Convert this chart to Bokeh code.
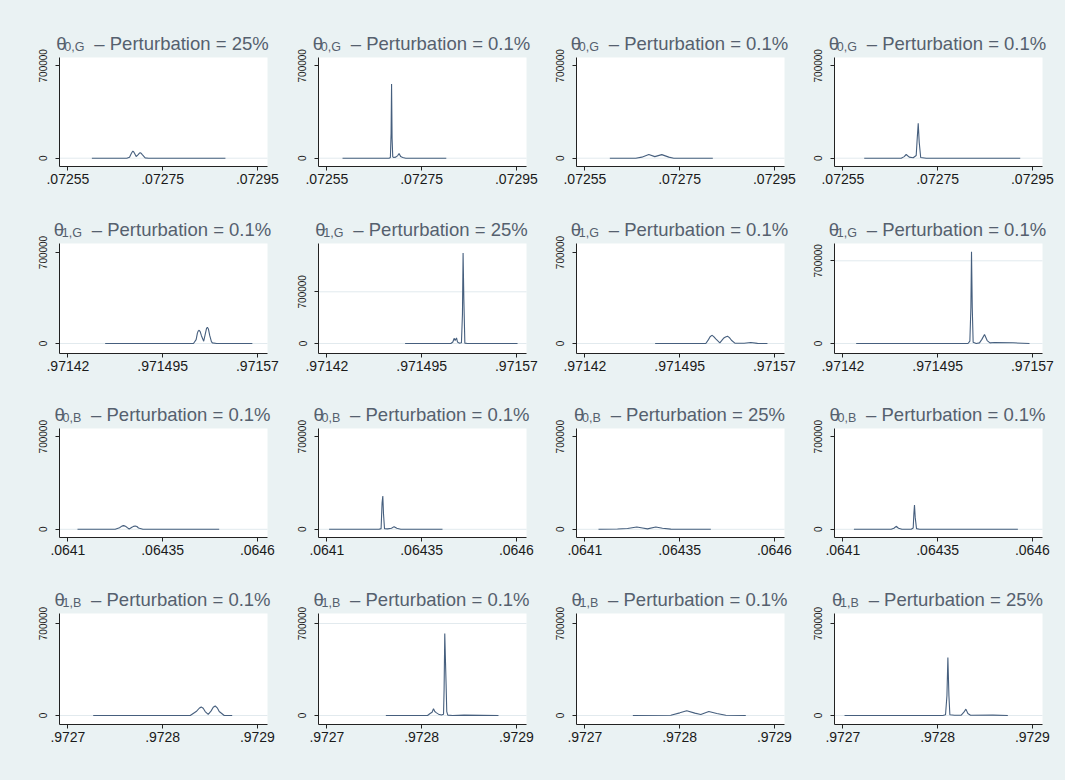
from bokeh.plotting import figure
from bokeh.layouts import gridplot
from bokeh.models import FixedTicker, Range1d, Label, BoxAnnotation
from bokeh.embed import file_html
from bokeh.resources import INLINE

# ---------------- data ----------------
xticks_r1 = [0.07255, 0.07275, 0.07295]
xlabels_r1 = [".07255", ".07275", ".07295"]
xticks_r2 = [0.97142, 0.971495, 0.97157]
xlabels_r2 = [".97142", ".971495", ".97157"]
xticks_r3 = [0.0641, 0.06435, 0.0646]
xlabels_r3 = [".0641", ".06435", ".0646"]
xticks_r4 = [0.9727, 0.9728, 0.9729]
xlabels_r4 = [".9727", ".9728", ".9729"]

yticks = [0, 700000]
ylabels = ["0", "700000"]

row_params = ["0,G", "1,G", "0,B", "1,B"]
perturbations = [["25%", "0.1%", "0.1%", "0.1%"],
                 ["0.1%", "25%", "0.1%", "0.1%"],
                 ["0.1%", "0.1%", "25%", "0.1%"],
                 ["0.1%", "0.1%", "0.1%", "25%"]]

# y axis limits per panel
y_lo = [[-62900, -62900, -62900, -62900],
        [-76900, -135400, -76900, -84600],
        [-62000, -62000, -62000, -62000],
        [-68700, -68700, -68700, -68700]]
y_hi = [[762900, 762900, 762900, 762900],
        [769200, 1354000, 769200, 846400],
        [762000, 762000, 762000, 762000],
        [776300, 776300, 776300, 776300]]
grid_top = [[False, False, False, False],
            [False, True, False, True],
            [False, False, False, False],
            [False, True, False, False]]

x_r1c1 = [0.0726006, 0.0726744, 0.0726801, 0.0726836, 0.0726857, 0.0726871, 0.0726885,
          0.0726906, 0.0726941, 0.0726983, 0.0727011, 0.0727026, 0.0727047, 0.0727075,
          0.0727131, 0.0727201, 0.0728825]
y_r1c1 = [0, 0, 7600, 32900, 47000, 53000, 50000, 37900, 12600, 27800, 39000, 40400, 37000,
          25300, 2500, 0, 0]
x_r1c2 = [0.072583, 0.0726812, 0.072684, 0.0726855, 0.0726865, 0.0726876, 0.072689, 0.0726911,
          0.0726953, 0.0726995, 0.0727023, 0.0727058, 0.07271, 0.0727166, 0.072802]
y_r1c2 = [0, 0, 5000, 190000, 563000, 150000, 10000, 5000, 8000, 20000, 35000, 12000, 5000, 0, 0]
x_r1c3 = [0.0726026, 0.0726575, 0.0726701, 0.0726849, 0.0726976, 0.0727123, 0.0727271,
          0.0727377, 0.07282]
y_r1c3 = [0, 0, 8000, 28000, 12000, 27000, 8000, 0, 0]
x_r1c4 = [0.072595, 0.0726731, 0.0726794, 0.0726836, 0.07269, 0.0726984, 0.0727047, 0.0727069,
          0.072709, 0.0727111, 0.0727142, 0.0727259, 0.0729243]
y_r1c4 = [0, 0, 12000, 28000, 8000, 3000, 20000, 150000, 265000, 120000, 5000, 0, 0]

x_r2c1 = [0.9714495, 0.9715194, 0.9715215, 0.9715225, 0.9715231, 0.9715239, 0.9715247,
          0.9715257, 0.9715275, 0.9715289, 0.9715297, 0.9715304, 0.9715312, 0.9715323,
          0.9715336, 0.9715344, 0.9715378, 0.971566]
y_r2c1 = [0, 0, 30000, 80000, 95000, 101800, 92000, 60000, 17800, 80000, 115000, 124700,
          112000, 60000, 15000, 5000, 0, 0]
x_r2c2 = [0.9714819, 0.9715181, 0.9715197, 0.9715207, 0.9715215, 0.9715226, 0.9715234,
          0.9715247, 0.9715265, 0.9715273, 0.9715278, 0.9715284, 0.9715292, 0.9715313, 0.9715709]
y_r2c2 = [0, 0, 20000, 70000, 40000, 75000, 20000, 5000, 10000, 400000, 1226000, 600000,
          5000, 0, 0]
x_r2c3 = [0.9714756, 0.9715157, 0.9715178, 0.9715191, 0.9715205, 0.9715218, 0.9715236,
          0.9715268, 0.9715297, 0.9715313, 0.9715329, 0.9715344, 0.971536, 0.9715387,
          0.971546, 0.9715513, 0.9715566, 0.9715645]
y_r2c3 = [0, 0, 30000, 52000, 63000, 55000, 35000, 5000, 40000, 50000, 55600, 45000, 25000,
          3000, 2000, 8000, 1000, 0]
x_r2c4 = [0.9714305, 0.971519, 0.9715205, 0.9715213, 0.9715218, 0.9715224, 0.9715231,
          0.9715255, 0.9715281, 0.97153, 0.9715321, 0.9715342, 0.9715364, 0.97154,
          0.9715546, 0.9715677]
y_r2c4 = [0, 0, 20000, 300000, 775600, 300000, 10000, 0, 5000, 35000, 75600, 25000, 5000,
          8000, 6000, 0]

x_r3c1 = [0.0641253, 0.0642248, 0.0642362, 0.0642424, 0.0642467, 0.0642512, 0.0642557,
          0.0642617, 0.0642689, 0.0642732, 0.0642776, 0.064282, 0.0642863, 0.0642979,
          0.0644992]
y_r3c1 = [0, 0, 12000, 24000, 27700, 24000, 15000, 2000, 15000, 22000, 25200, 21000, 10000,
          0, 0]
x_r3c2 = [0.0641058, 0.0642377, 0.064243, 0.0642456, 0.0642475, 0.0642493, 0.064252,
          0.0642599, 0.0642704, 0.0642773, 0.0642844, 0.064295, 0.064405]
y_r3c2 = [0, 0, 5000, 200000, 251800, 120000, 5000, 3000, 8000, 20000, 8000, 0, 0]
x_r3c3 = [0.0641359, 0.064186, 0.0642124, 0.0642369, 0.064252, 0.0642652, 0.0642871,
          0.0643047, 0.0643266, 0.0644322]
y_r3c3 = [0, 2000, 6000, 17600, 10000, 3000, 17600, 8000, 1000, 0]
x_r3c4 = [0.064129, 0.0642274, 0.0642346, 0.0642406, 0.0642467, 0.0642557, 0.0642802,
          0.0642855, 0.0642873, 0.0642889, 0.0642908, 0.0642942, 0.0643021, 0.0645617]
y_r3c4 = [0, 0, 8000, 22700, 8000, 0, 0, 10000, 120000, 183800, 90000, 5000, 0, 0]

x_r4c1 = [0.9727267, 0.9728291, 0.9728354, 0.9728386, 0.9728407, 0.9728428, 0.9728449,
          0.9728481, 0.9728512, 0.9728534, 0.9728555, 0.9728576, 0.9728597, 0.972865,
          0.9728734]
y_r4c1 = [0, 0, 30000, 55000, 65000, 55000, 30000, 8000, 35000, 62000, 72000, 58000, 30000,
          0, 0]
x_r4c2 = [0.9727622, 0.9728062, 0.9728089, 0.972811, 0.9728125, 0.9728139, 0.9728157,
          0.9728178, 0.9728209, 0.9728231, 0.9728237, 0.9728244, 0.9728252, 0.9728258,
          0.9728265, 0.9728276, 0.9728326, 0.9728448, 0.9728811]
y_r4c2 = [0, 0, 15000, 25000, 50900, 30000, 20000, 10000, 3000, 10000, 200000, 623500,
          400000, 240000, 30000, 3000, 0, 3000, 0]
x_r4c3 = [0.9727506, 0.9727907, 0.9728002, 0.9728075, 0.972816, 0.9728223, 0.9728308,
          0.9728392, 0.9728487, 0.9728698]
y_r4c3 = [0, 2000, 20000, 36000, 18000, 8000, 30000, 15000, 2000, 0]
x_r4c4 = [0.9727017, 0.9728055, 0.9728083, 0.9728098, 0.9728108, 0.9728119, 0.9728129,
          0.9728178, 0.9728249, 0.9728277, 0.9728298, 0.9728319, 0.9728347, 0.9728583,
          0.9728741]
y_r4c4 = [0, 0, 5000, 150000, 440300, 150000, 5000, 2000, 3000, 25000, 48400, 15000, 2000,
          3000, 0]

# ---------------- assembly ----------------
xs = [[x_r1c1, x_r1c2, x_r1c3, x_r1c4], [x_r2c1, x_r2c2, x_r2c3, x_r2c4],
      [x_r3c1, x_r3c2, x_r3c3, x_r3c4], [x_r4c1, x_r4c2, x_r4c3, x_r4c4]]
ys = [[y_r1c1, y_r1c2, y_r1c3, y_r1c4], [y_r2c1, y_r2c2, y_r2c3, y_r2c4],
      [y_r3c1, y_r3c2, y_r3c3, y_r3c4], [y_r4c1, y_r4c2, y_r4c3, y_r4c4]]
row_ticks = [xticks_r1, xticks_r2, xticks_r3, xticks_r4]
row_labels = [xlabels_r1, xlabels_r2, xlabels_r3, xlabels_r4]

BG = "#EAF2F3"
LINE = "#465F7E"
TITLE_C = "#55606E"
AXIS_C = "#222222"
GRID_C = "#E2EAEE"
FONT = "Liberation Sans"

# cell geometry (px): left border, plot-region width, right border
col_l = [59, 30, 30, 30]
col_r = [21, 20, 20, 23]
FW = 208
row_t = [57, 53, 51, 52]
row_fh = [109, 110, 109, 111]
row_b = [24, 24, 24, 56]

# Arial / Liberation Sans advance widths (1/1000 em)
CW = {' ': 278, '\u2013': 556, 'P': 667, 'e': 556, 'r': 333, 't': 278, 'u': 556, 'b': 556,
      'a': 556, 'i': 222, 'o': 556, 'n': 556, '=': 584, '.': 278, '%': 889, ',': 278,
      'G': 778, 'B': 667, '\u03b8': 556}


def tw(s, size):
    return sum(CW.get(ch, 556) for ch in s) * size / 1000.0


TS = 18.5   # title font size
SS = 12.5   # subscript font size
MID = 0.3465  # (ascent - descent) / 2, in em

children = []
for r in range(4):
    row = []
    lo, hi = row_ticks[r][0], row_ticks[r][-1]
    d = hi - lo
    x0 = lo - 8.4 / 189.5 * d
    x1 = hi + 10.1 / 189.5 * d
    fh = row_fh[r]
    T, B = row_t[r], row_b[r]
    for c in range(4):
        L, R = col_l[c], col_r[c]
        y0, y1 = y_lo[r][c], y_hi[r][c]
        pxw = (x1 - x0) / FW
        pyh = (y1 - y0) / fh
        p = figure(width=L + FW + R, height=T + fh + B, output_backend="svg",
                   toolbar_location=None, tools="",
                   x_range=Range1d(x0 - L * pxw, x1 + R * pxw),
                   y_range=Range1d(y0 - B * pyh, y1 + T * pyh),
                   min_border=0)
        p.title.visible = False
        p.background_fill_color = BG
        p.border_fill_color = BG
        p.outline_line_color = None
        p.xgrid.visible = False
        p.ygrid.visible = False

        # white plot region
        p.add_layout(BoxAnnotation(left=x0, right=x1, bottom=y0, top=y1,
                                   fill_color="white", fill_alpha=1.0,
                                   line_color=None, level="underlay"))
        # horizontal grid lines at y ticks
        gt = yticks if grid_top[r][c] else yticks[:1]
        p.segment(x0=[x0] * len(gt), x1=[x1] * len(gt), y0=gt, y1=gt,
                  line_color=GRID_C, line_width=1)

        p.line(xs[r][c], ys[r][c], line_color=LINE, line_width=1.1)

        p.xaxis.fixed_location = y0
        p.xaxis.bounds = (x0, x1)
        p.yaxis.fixed_location = x0
        p.yaxis.bounds = (y0, y1)
        p.xaxis.ticker = FixedTicker(ticks=row_ticks[r])
        p.xaxis.major_label_overrides = {t: l for t, l in zip(row_ticks[r], row_labels[r])}
        p.yaxis.ticker = FixedTicker(ticks=yticks)
        p.yaxis.major_label_overrides = {t: l for t, l in zip(yticks, ylabels)}
        p.yaxis.major_label_orientation = "vertical"
        for ax in (p.xaxis, p.yaxis):
            ax.axis_line_color = AXIS_C
            ax.axis_line_width = 1
            ax.major_tick_line_color = AXIS_C
            ax.major_tick_out = 4
            ax.major_tick_in = 0
            ax.minor_tick_line_color = None
            ax.major_label_text_font = FONT
            ax.major_label_text_color = "#1a1a1a"
        p.xaxis.major_label_text_font_size = "14px"
        p.xaxis.major_label_standoff = 3
        p.yaxis.major_label_text_font_size = "10px"
        p.yaxis.major_label_standoff = 8

        # title: theta with subscript, centred over the plot region
        main = "\u2013 Perturbation = " + perturbations[r][c]
        sub = row_params[r]
        w_s = tw(sub, SS)
        w_m = tw(main, TS)
        sub_dx = 8.0
        main_dx = sub_dx + w_s + 9.85
        W = main_dx + w_m
        start = L + (FW / 2.0 - 1) - W / 2.0
        top = B + fh
        for txt, xo, yo, fs in (("\u03b8", start, top + 7.5 + MID * TS, TS),
                                (sub, start + sub_dx, top + 5.8 + MID * SS, SS),
                                (main, start + main_dx, top + 7.5 + MID * TS, TS)):
            p.add_layout(Label(x=xo, y=yo, x_units="screen", y_units="screen", text=txt,
                               text_font=FONT, text_font_size=f"{fs}px",
                               text_color=TITLE_C, text_align="left",
                               text_baseline="middle"))
        row.append(p)
    children.append(row)

grid = gridplot(children, toolbar_location=None)
try:
    from bokeh.models import GlobalInlineStyleSheet
    grid.stylesheets = [GlobalInlineStyleSheet(css="body{background-color:#EAF2F3;}")]
except Exception:
    pass

open("out.html", "w").write(file_html(grid, INLINE))
